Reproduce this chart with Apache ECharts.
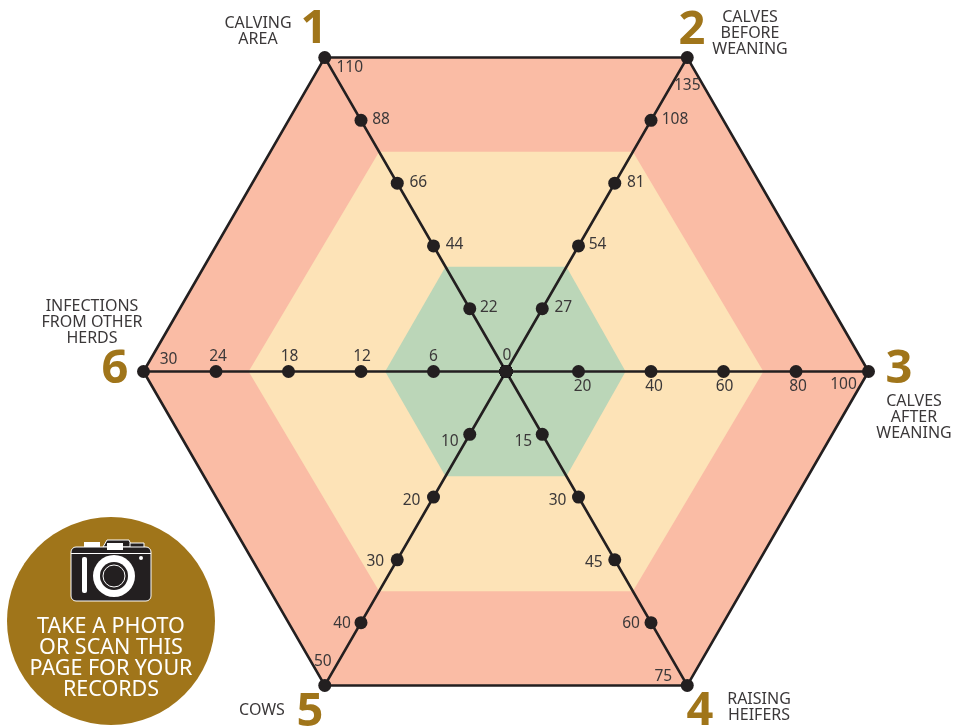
<!DOCTYPE html>
<html>
<head>
<meta charset="utf-8">
<style>
  html, body { margin: 0; padding: 0; background: #fff; }
  #chart { width: 953px; height: 728px; }
</style>
<script src="https://cdn.jsdelivr.net/npm/echarts@6/dist/echarts.min.js"></script>
</head>
<body>
<div id="chart"></div>
<script>
// scale of each spoke, numbered as on the page
const calvingArea = [22, 44, 66, 88, 110];
const calvesBefore = [27, 54, 81, 108, 135];
const calvesAfter = [20, 40, 60, 80, 100];
const raisingHeifers = [15, 30, 45, 60, 75];
const cows = [10, 20, 30, 40, 50];
const infections = [6, 12, 18, 24, 30];

// zone limits on each spoke, in spoke order 1..6
const greenLimit = [36.7, 45, 33, 25, 16.7, 10];
const yellowLimit = [77, 94.5, 71, 52.5, 35, 21.3];
const redLimit = [110, 135, 100, 75, 50, 30];

const spokes = [calvingArea, calvesBefore, calvesAfter, raisingHeifers, cows, infections];
// radar runs counter-clockwise, page numbers run clockwise
const radarOrder = [0, 5, 4, 3, 2, 1];

// label offset from the dot, per tick
const labelOffsets = [
  [[19, -1], [21, -1], [21, -1], [20, -1], [25, 10]],
  [[21, -1], [19, -1], [21, -1], [24, -1], [0, 28]],
  [[4, 15], [3, 15], [1, 15], [2, 15], [-25, 13]],
  [[-19, 7], [-21, 4], [-21, 3], [-20, 1], [-24, -9]],
  [[-20, 7], [-22, 4], [-22, 2], [-19, 1], [-2, -24]],
  [[0, -15], [1, -15], [1, -15], [2, -15], [25, -12]]
];

const ink = '#231f20';
const gold = '#a0751a';
const textColor = '#3b3839';
const font = '"Noto Sans", sans-serif';

const toRadar = values => radarOrder.map(i => values[i]);

const zoneSeries = (name, values, color) => ({
  type: 'radar',
  name,
  z: 1,
  silent: true,
  symbol: 'none',
  areaStyle: { color, opacity: 1 },
  lineStyle: { width: 0, opacity: 0 },
  data: [{ value: toRadar(values) }]
});

// the fill covers half of its own line, so the outline is a series of its own
const outline = {
  type: 'radar',
  name: 'outline',
  z: 2,
  silent: true,
  symbol: 'none',
  lineStyle: { color: ink, width: 2.6 },
  data: [{ value: toRadar(redLimit) }]
};

const tickSeries = spokes.map((ticks, s) => ({
  type: 'radar',
  name: 'ticks ' + (s + 1),
  z: 4,
  silent: true,
  symbol: 'circle',
  symbolSize: 13,
  itemStyle: { color: ink },
  lineStyle: { width: 0, opacity: 0 },
  data: ticks.map((tick, t) => ({
    value: toRadar(spokes.map((_, i) => (i === s ? tick : '-'))),
    label: {
      show: true,
      position: 'inside',
      offset: labelOffsets[s][t],
      color: textColor,
      fontFamily: font,
      fontSize: 15.5,
      // every symbol of an item shares this label, only the real one keeps its text
      formatter: p => (p.dimensionIndex === radarOrder.indexOf(s) ? String(tick) : '')
    }
  }))
}));

const centre = {
  type: 'radar',
  name: 'centre',
  z: 4,
  silent: true,
  symbol: 'circle',
  symbolSize: 13,
  itemStyle: { color: ink },
  lineStyle: { width: 0, opacity: 0 },
  data: [{
    value: [0, '-', '-', '-', '-', '-'],
    label: {
      show: true, position: 'inside', offset: [1, -16], color: textColor, fontFamily: font, fontSize: 15.5,
      formatter: p => (p.dimensionIndex === 0 ? '0' : '')
    }
  }]
};

const word = (x, y, text) => ({
  type: 'text',
  x, y,
  z: 10,
  silent: true,
  style: { text, fill: textColor, font: '16px ' + font, align: 'center', verticalAlign: 'top', lineHeight: 16 }
});
const number = (x, y, text) => ({
  type: 'text',
  x, y,
  z: 10,
  silent: true,
  style: { text, fill: gold, font: 'bold 47px ' + font, align: 'center', verticalAlign: 'middle' }
});

const cameraParts = [
  { type: 'rect', shape: { x: -27, y: -30, width: 16, height: 6 }, style: { fill: '#fff' } },
  { type: 'polygon', shape: { points: [[-8, -25], [-4, -32], [18, -32], [21, -25]] }, style: { fill: ink, stroke: '#fff', lineWidth: 1 } },
  { type: 'rect', shape: { x: 19, y: -29, width: 14, height: 6 }, style: { fill: ink, stroke: '#fff', lineWidth: 1 } },
  { type: 'rect', shape: { x: -40, y: -25, width: 80, height: 54, r: 5 }, style: { fill: ink, stroke: '#fff', lineWidth: 1 } },
  { type: 'rect', shape: { x: -4, y: -29, width: 16, height: 7 }, style: { fill: '#fff' } },
  { type: 'rect', shape: { x: -40, y: -19, width: 80, height: 1 }, style: { fill: '#fff' } },
  { type: 'circle', shape: { cx: 3, cy: 4, r: 21 }, style: { fill: '#fff' } },
  { type: 'circle', shape: { cx: 3, cy: 4, r: 14 }, style: { fill: ink } },
  { type: 'circle', shape: { cx: 3, cy: 4, r: 11 }, style: { fill: ink, stroke: '#fff', lineWidth: 1 } },
  { type: 'rect', shape: { x: -29, y: -15, width: 5, height: 36, r: 2 }, style: { fill: '#fff' } },
  { type: 'circle', shape: { cx: 30, cy: -14, r: 2 }, style: { fill: '#fff' } }
];

const chart = echarts.init(document.getElementById('chart'), null, { renderer: 'canvas' });
chart.setOption({
  animation: false,
  backgroundColor: '#fff',
  radar: {
    z: 3,
    center: [506, 371.5],
    radius: 362.5,
    startAngle: 120,
    shape: 'polygon',
    splitNumber: 5,
    axisName: { show: false },
    axisTick: { show: false },
    axisLabel: { show: false },
    splitLine: { show: false },
    splitArea: { show: false },
    axisLine: { show: true, lineStyle: { color: ink, width: 2.6 } },
    indicator: toRadar(redLimit).map(max => ({ min: 0, max }))
  },
  series: [
    zoneSeries('red', redLimit, '#fabca5'),
    zoneSeries('yellow', yellowLimit, '#fde3b7'),
    zoneSeries('green', greenLimit, '#bbd6b8'),
    outline,
    ...tickSeries,
    centre
  ],
  graphic: [
    word(258, 15, 'CALVING\nAREA'),
    number(314, 30, '1'),
    number(692, 31, '2'),
    word(750, 9, 'CALVES\nBEFORE\nWEANING'),
    number(899, 370, '3'),
    word(914, 393, 'CALVES\nAFTER\nWEANING'),
    number(700, 712, '4'),
    word(759, 691, 'RAISING\nHEIFERS'),
    number(310, 713, '5'),
    word(262, 702, 'COWS'),
    number(115, 370, '6'),
    word(92, 298, 'INFECTIONS\nFROM OTHER\nHERDS'),
    { type: 'circle', z: 9, silent: true, shape: { cx: 111, cy: 621, r: 104 }, style: { fill: gold } },
    {
      type: 'group', x: 111, y: 572, silent: true,
      children: cameraParts.map(part => ({ ...part, z: 10, silent: true }))
    },
    {
      type: 'text', x: 111, y: 616, z: 10, silent: true,
      style: { text: 'TAKE A PHOTO\nOR SCAN THIS\nPAGE FOR YOUR\nRECORDS', fill: '#fff', font: '21.5px ' + font, align: 'center', verticalAlign: 'top', lineHeight: 21 }
    }
  ]
});
</script>
</body>
</html>
